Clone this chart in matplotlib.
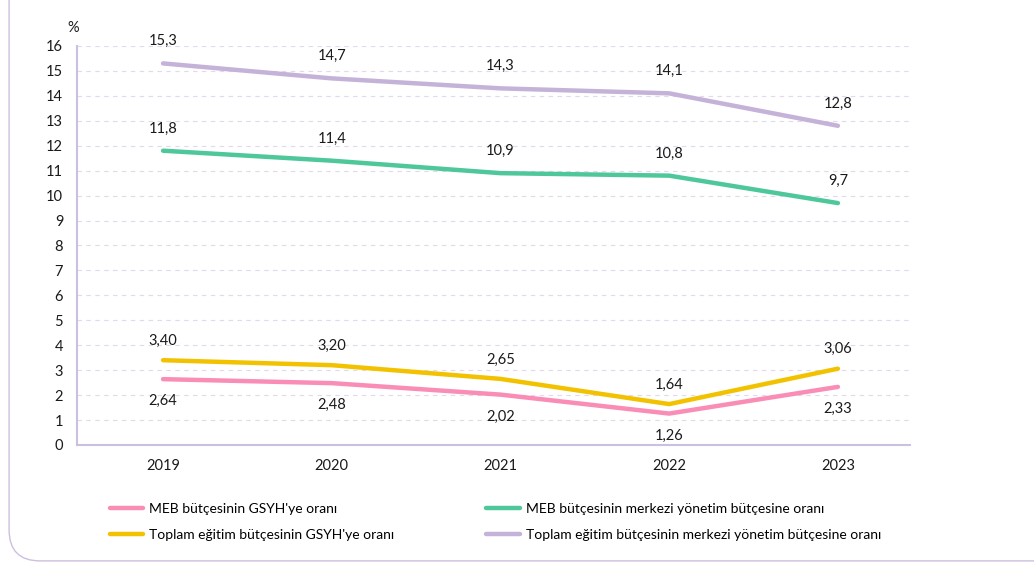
import matplotlib.pyplot as plt
from matplotlib.patches import FancyBboxPatch

plt.rcParams['font.family'] = ['Lato', 'DejaVu Sans']

# Data
years = [2019, 2020, 2021, 2022, 2023]
meb_gsyh = [2.64, 2.48, 2.02, 1.26, 2.33]
toplam_gsyh = [3.40, 3.20, 2.65, 1.64, 3.06]
meb_merkezi = [11.8, 11.4, 10.9, 10.8, 9.7]
toplam_merkezi = [15.3, 14.7, 14.3, 14.1, 12.8]

lbl_meb_gsyh = ["2,64", "2,48", "2,02", "1,26", "2,33"]
lbl_toplam_gsyh = ["3,40", "3,20", "2,65", "1,64", "3,06"]
lbl_meb_merkezi = ["11,8", "11,4", "10,9", "10,8", "9,7"]
lbl_toplam_merkezi = ["15,3", "14,7", "14,3", "14,1", "12,8"]

c_pink = '#F98DB5'
c_yellow = '#F2C200'
c_green = '#4EC79B'
c_purple = '#C4B2D8'
c_axis = '#CDBFE0'
c_text = '#1a1a1a'

fig = plt.figure(figsize=(10.34, 5.66), dpi=100)
ax = fig.add_axes([0.0745, 0.2138, 0.806, 0.705])

# rounded frame around the chart
frame = FancyBboxPatch((0.0088, 0.009), 1.2, 1.2, boxstyle='round,pad=0,rounding_size=0.03',
                       transform=fig.transFigure, fill=False, edgecolor=c_axis, linewidth=1.0,
                       mutation_aspect=1.83)
fig.patches.append(frame)

lw = 3.2
l1, = ax.plot(years, meb_gsyh, color=c_pink, lw=lw, solid_capstyle='round', label="MEB bütçesinin GSYH'ye oranı")
l2, = ax.plot(years, toplam_gsyh, color=c_yellow, lw=lw, solid_capstyle='round', label="Toplam eğitim bütçesinin GSYH'ye oranı")
l3, = ax.plot(years, meb_merkezi, color=c_green, lw=lw, solid_capstyle='round', label="MEB bütçesinin merkezi yönetim bütçesine oranı")
l4, = ax.plot(years, toplam_merkezi, color=c_purple, lw=lw, solid_capstyle='round', label="Toplam eğitim bütçesinin merkezi yönetim bütçesine oranı")

# value labels
for series, labels, dy in [(meb_gsyh, lbl_meb_gsyh, -16),
                           (toplam_gsyh, lbl_toplam_gsyh, 14),
                           (meb_merkezi, lbl_meb_merkezi, 16),
                           (toplam_merkezi, lbl_toplam_merkezi, 16)]:
    for x, y, t in zip(years, series, labels):
        ax.annotate(t, (x, y), xytext=(0, dy), textcoords='offset points',
                    ha='center', va='center', fontsize=10.5, color=c_text)

ax.set_xlim(2018.49, 2023.43)
ax.set_ylim(0, 16)
ax.set_yticks(range(0, 17))
ax.set_xticks(years)
ax.set_xticklabels([str(y) for y in years])
ax.tick_params(axis='both', length=0, labelsize=10.5, colors=c_text)
ax.tick_params(axis='y', pad=10)
ax.tick_params(axis='x', pad=10)

ax.grid(axis='y', color='#E2D9EC', linestyle=(0, (4, 4)), linewidth=0.8)
ax.set_axisbelow(True)
for s in ['top', 'right']:
    ax.spines[s].set_visible(False)
ax.spines['left'].set_color(c_axis)
ax.spines['bottom'].set_color(c_axis)
ax.spines['left'].set_linewidth(1.5)
ax.spines['bottom'].set_linewidth(1.5)

fig.text(0.071, 0.95, '%', ha='center', va='center', fontsize=10.5, color=c_text)

fig.legend(handles=[l1, l2, l3, l4], ncol=2, loc='upper left', bbox_to_anchor=(0.094, 0.134),
           frameon=False, fontsize=10, handlelength=2.4, columnspacing=6.6,
           labelspacing=1.0, handletextpad=0.45)

plt.savefig('out.png', dpi=100)
